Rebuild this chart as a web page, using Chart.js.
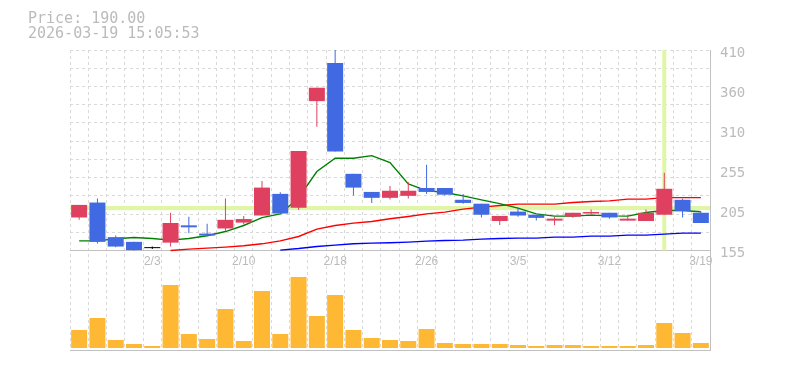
<!DOCTYPE html>
<html><head><meta charset="utf-8">
<script src="https://cdn.jsdelivr.net/npm/chart.js@4.4.1/dist/chart.umd.min.js"></script>
<style>
html,body{margin:0;padding:0;background:#fff;}
#wrap{position:relative;width:785px;height:370px;overflow:hidden;}
#c{position:absolute;left:0;top:0;}
.t{position:absolute;left:28px;font-family:"DejaVu Sans Mono",monospace;font-size:15px;line-height:15px;color:#bbb;white-space:pre;}
</style></head><body>
<div id="wrap"><canvas id="c" width="785" height="370"></canvas>
<div class="t" id="t1" style="top:10.5px"></div>
<div class="t" id="t2" style="top:25.5px"></div></div>
<script>
// ---------- data ----------
const TITLE_PRICE = 'Price: 190.00';
const TITLE_TIME = '2026-03-19 15:05:53';
const DATES = ['1/28','1/29','1/30','2/2','2/3','2/4','2/5','2/6','2/9','2/10','2/12','2/13','2/16','2/17','2/18','2/19','2/20','2/24','2/25','2/26','2/27','3/2','3/3','3/4','3/5','3/6','3/9','3/10','3/11','3/12','3/13','3/16','3/17','3/18','3/19'];
const OPEN  = [197,216,172,166,158,165,187,176.5,183,190.5,199.5,227,209.5,345,393.5,252.5,229.5,222,224.5,234.5,234.5,219.5,214.5,192.5,204.5,200.5,193,198,202,203,193,192.5,200.5,219.5,203];
const HIGH  = [213,221,174,166,160,203,198,189,221,199,243.5,229,281.7,362,410,252.5,229.5,237,242,264,234.5,227,214.5,199,209.5,200.5,198,203,207,203,200.5,207,254,220.7,204.5];
const LOW   = [194,164,159,155,157,160,177,173,180,188,199.5,202,206.7,312.5,281,225,215.5,220,221,227,225,214.5,197,187.5,198,193,187,196.5,200.5,195.5,193,192.5,200.5,197,190];
const CLOSE = [213,166,160,155.5,158,190,184.5,174,194,195,235,202,281.7,362,281,235,222,231,231,229.5,226,215.5,200.5,199,199.5,196.5,195.5,203,204,197,195.5,203,233.5,205,190];
const VOLUME = [180,300,80,40,20,630,140,90,390,70,570,140,710,320,530,180,100,80,70,190,50,40,40,40,30,20,30,30,20,20,20,30,250,150,50];
const MA_SHORT = [167.3,167.3,169.9,171.5,170.2,168.2,170.2,173.7,179.1,186.8,196.9,201.6,222,255.4,272.4,272.4,275.7,266.8,239.7,231.2,228.7,224.5,219.4,214.7,208.9,201.6,198.7,198.7,200,199,198.7,203.3,205.8,205.8,204.2];
const MA_MID = [null,null,null,null,null,155,156.8,158,159.3,161,163.5,167.3,172.8,182.2,186.8,189.8,191.8,195.3,198.2,201.6,203.8,207.6,210.1,212.2,214,214,214,216,217.3,218.1,220.3,220.3,222.3,222.3,222.3];
const MA_LONG = [null,null,null,null,null,null,null,null,null,null,null,155.5,157.5,160.1,161.9,163.5,164.4,164.8,165.7,166.9,167.7,168.2,169.5,170.2,170.7,170.7,172,172,173.3,173.3,174.6,174.6,175.8,177.1,177.1];
const PRICE_MIN = 155, PRICE_MAX = 410;
const Y_TICK_VALUES = [155,206,257,308,359,410];
const Y_TICK_LABELS = ['155','205','255','310','360','410'];
const X_TICK_LABELS = ['2/3','2/10','2/18','2/26','3/5','3/12','3/19'];
const HILITE_PRICE = 208.9;
const HILITE_DATE = '3/17';

// ---------- layout / style ----------
const GRID_DIVS = 11;
const AREA_TOP = 50, PRICE_BOTTOM = 250.5, AREA_BOTTOM = 350, VOL_BASE = 348;
const pxPerPrice = (PRICE_BOTTOM - AREA_TOP) / (PRICE_MAX - PRICE_MIN);
const yMinExt = PRICE_MIN - (AREA_BOTTOM - PRICE_BOTTOM) / pxPerPrice;
const VOL_PER_PX = 10;
const vMin = -(AREA_BOTTOM - VOL_BASE) * VOL_PER_PX;
const vMax = (VOL_BASE - AREA_TOP) * VOL_PER_PX;
const RED = '#e0405f', BLUE = '#4169e1', LIME = '#dff6a6', GRID = '#d9d9d9', AXIS = '#c0c0c0', TXT = '#bbbbbb';
const bandHalf = 1.75 / pxPerPrice;

document.getElementById('t1').textContent = TITLE_PRICE;
document.getElementById('t2').textContent = TITLE_TIME;

const gridVals = [];
for (let j = 0; j <= GRID_DIVS; j++) gridVals.push(PRICE_MIN + j * (PRICE_MAX - PRICE_MIN) / GRID_DIVS);
const allTicks = gridVals.slice();
Y_TICK_VALUES.forEach(v => { if (!allTicks.some(g => Math.abs(g - v) < 0.01)) allTicks.push(v); });
allTicks.sort((a, b) => a - b);
const isGrid = v => gridVals.some(g => Math.abs(g - v) < 0.01);
const labelFor = v => { const k = Y_TICK_VALUES.findIndex(t => Math.abs(t - v) < 0.01); return k >= 0 ? Y_TICK_LABELS[k] : ''; };

const candleColor = DATES.map((d, i) => CLOSE[i] > OPEN[i] ? RED : (CLOSE[i] < OPEN[i] ? BLUE : '#000000'));
const hIdx = DATES.indexOf(HILITE_DATE);

new Chart(document.getElementById('c'), {
  type: 'bar',
  data: {
    labels: DATES,
    datasets: [
      { type: 'bar', label: 'body', data: DATES.map((d, i) => [OPEN[i], CLOSE[i]]), backgroundColor: candleColor,
        barThickness: 16, minBarLength: 1, grouped: false, order: 0, yAxisID: 'y', inflateAmount: 0 },
      { type: 'bar', label: 'wick', data: DATES.map((d, i) => [LOW[i], HIGH[i]]), backgroundColor: candleColor,
        barThickness: 1, minBarLength: 0, grouped: false, order: 1, yAxisID: 'y', inflateAmount: 0 },
      { type: 'line', label: 'ma5', data: MA_SHORT, borderColor: '#008000', borderWidth: 1.4, pointRadius: 0, tension: 0, fill: false, order: 2, yAxisID: 'y' },
      { type: 'line', label: 'ma25', data: MA_MID, borderColor: '#ff0000', borderWidth: 1.4, pointRadius: 0, tension: 0, fill: false, order: 2, yAxisID: 'y' },
      { type: 'line', label: 'ma75', data: MA_LONG, borderColor: '#0000ff', borderWidth: 1.4, pointRadius: 0, tension: 0, fill: false, order: 2, yAxisID: 'y' },
      { type: 'bar', label: 'hband', data: DATES.map(() => [HILITE_PRICE - bandHalf, HILITE_PRICE + bandHalf]), backgroundColor: LIME,
        barPercentage: 1, categoryPercentage: 1, grouped: false, order: 3, yAxisID: 'y' },
      { type: 'bar', label: 'vband', data: DATES.map((d, i) => i === hIdx ? [PRICE_MIN, PRICE_MAX] : null), backgroundColor: LIME,
        barThickness: 4, grouped: false, order: 3, yAxisID: 'y', inflateAmount: 0 },
      { type: 'bar', label: 'volume', data: VOLUME, backgroundColor: '#ffb833', barThickness: 16, grouped: false, order: 4, yAxisID: 'yv', inflateAmount: 0 }
    ]
  },
  options: {
    responsive: false,
    animation: false,
    events: [],
    layout: { padding: { left: 70, top: AREA_TOP, right: 0, bottom: 370 - AREA_BOTTOM } },
    plugins: { legend: { display: false }, tooltip: { enabled: false }, title: { display: false } },
    scales: {
      x: {
        type: 'category', position: { y: PRICE_MIN }, offset: true,
        grid: { offset: true, color: GRID, lineWidth: 1, drawTicks: false },
        border: { display: true, color: AXIS, width: 1, dash: [3, 3] },
        ticks: { autoSkip: false, maxRotation: 0, minRotation: 0, padding: 4, color: TXT,
          font: { family: '"Liberation Sans", Arial, sans-serif', size: 12 },
          callback: function (v, i) { const l = DATES[i]; return X_TICK_LABELS.includes(l) ? l : ''; } },
        afterFit: s => { s.height = 0; }
      },
      x2: {
        type: 'category', position: 'bottom', offset: true,
        grid: { display: false, drawTicks: false },
        border: { display: true, color: AXIS, width: 1 },
        ticks: { display: false },
        afterFit: s => { s.height = 0; }
      },
      y: {
        type: 'linear', position: 'right', min: yMinExt, max: PRICE_MAX,
        grid: { color: c => (c.tick && isGrid(c.tick.value) && c.tick.value > PRICE_MIN + 0.01) ? GRID : 'rgba(0,0,0,0)', drawTicks: false, lineWidth: 1 },
        border: { display: true, color: AXIS, width: 1, dash: [3, 3] },
        ticks: { autoSkip: false, padding: 10, labelOffset: 3, color: TXT,
          font: { family: '"DejaVu Sans Mono", monospace', size: 14 },
          callback: v => labelFor(v) },
        afterBuildTicks: s => { s.ticks = allTicks.map(v => ({ value: v })); },
        afterFit: s => { s.width = 785 - 710; }
      },
      yv: { type: 'linear', display: false, min: vMin, max: vMax }
    }
  }
});
</script>
</body></html>
